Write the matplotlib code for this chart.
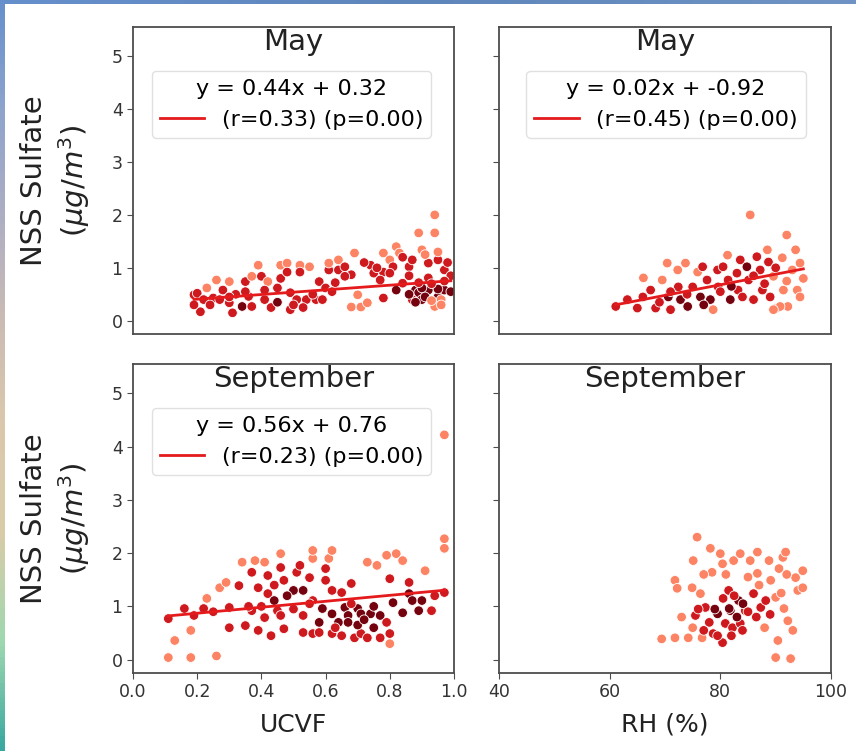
import matplotlib
matplotlib.use("Agg")
import matplotlib.pyplot as plt
import numpy as np
from matplotlib.colors import LinearSegmentedColormap

# ---------------- data ----------------
# shade codes: 1 = light, 2 = medium red, 3 = dark red (hue of each point)
may_ucvf_x = [0.19,0.21,0.23,0.26,0.25,0.28,0.30,0.30,0.31,0.34,
              0.35,0.37,0.37,0.39,0.40,0.41,0.42,0.45,0.46,0.46,
              0.48,0.48,0.49,0.49,0.52,0.52,0.51,0.55,0.54,0.57,
              0.59,0.61,0.61,0.64,0.64,0.66,0.69,0.68,0.70,0.68,
              0.71,0.73,0.74,0.75,0.78,0.78,0.78,0.80,0.81,0.82,
              0.83,0.82,0.86,0.87,0.88,0.89,0.90,0.89,0.90,0.92,
              0.92,0.94,0.94,0.95,0.95,0.96,0.97,0.97,0.94,0.92,
              0.87,0.84,0.77,0.66,0.63,0.58,0.41,0.36,0.27,0.19,
              0.20,0.22,0.99,0.99,0.86,0.88,0.90,0.91,0.93,0.95,
              0.96,0.93,0.89,0.97,0.43,0.45,0.50,0.53,0.56,0.60,
              0.62,0.35,0.32,0.30,0.24,0.72,0.76,0.80,0.84,0.86,
              0.91,0.95,0.98]
may_ucvf_y = [0.49,0.17,0.62,0.77,0.43,0.58,0.74,0.34,0.15,0.27,
              0.74,0.84,0.27,1.05,0.84,0.40,0.74,0.62,0.80,1.05,
              1.09,0.92,0.53,0.21,1.05,0.92,0.40,1.02,0.40,0.40,
              0.40,0.96,1.09,1.15,0.96,1.02,1.28,0.87,0.49,0.26,
              0.26,0.34,1.05,0.90,1.28,0.92,0.43,1.15,1.02,1.40,
              1.28,0.58,1.02,1.15,0.58,0.53,0.40,1.66,1.34,1.09,
              0.81,1.66,2.00,1.15,0.45,0.40,0.58,0.96,0.27,0.58,
              0.40,0.71,0.77,0.84,0.72,0.74,0.58,0.46,0.40,0.30,
              0.52,0.40,0.55,0.85,0.50,0.35,0.62,0.45,0.38,0.60,
              0.30,0.70,0.72,0.75,0.25,0.35,0.30,0.25,0.50,0.62,
              0.55,0.55,0.50,0.45,0.30,1.10,1.00,0.90,1.20,0.85,
              1.25,1.30,1.10]
may_ucvf_hue = [2,2,1,1,2,2,1,2,2,3,
                2,1,2,1,2,2,1,2,2,1,
                1,2,2,2,1,2,2,1,2,2,
                2,2,1,1,2,2,1,2,1,1,
                1,1,2,2,1,2,2,1,2,1,
                1,3,2,2,3,3,3,1,1,2,
                2,1,1,2,3,1,3,2,1,3,
                2,2,2,2,2,2,2,2,2,2,
                2,2,3,2,3,3,3,3,1,3,
                1,2,2,2,2,3,2,2,2,2,
                2,2,2,2,2,2,2,2,2,2,
                1,1,2]

may_rh_x = [61.1,63.2,65.0,66.1,67.4,68.3,69.5,70.4,70.6,71.0,
            72.3,72.4,72.8,73.7,74.1,75.0,75.9,76.4,76.8,77.6,
            78.2,78.7,79.5,79.6,80.5,81.3,81.4,81.8,83.0,83.2,
            83.6,84.8,85.1,85.4,86.0,86.6,87.2,87.6,88.5,88.7,
            89.0,89.6,90.2,91.2,91.4,92.0,92.2,93.0,93.6,93.9,
            94.4,94.4,90.8,89.6,66.0,69.0,71.0,74.0,77.0,80.0,
            82.0,84.0,86.0,88.0,90.0,92.0,95.0]
may_rh_y = [0.27,0.40,0.24,0.81,0.58,0.24,0.77,1.09,0.45,0.21,
            0.96,0.64,0.40,1.09,0.27,0.64,0.92,0.45,1.02,0.77,
            0.40,0.21,0.96,0.64,1.02,1.24,0.77,0.40,0.90,0.58,
            1.15,1.02,0.77,2.00,0.40,1.21,0.96,0.58,1.34,1.11,
            0.45,0.84,0.24,1.19,0.58,1.62,0.27,0.96,1.34,0.58,
            1.09,0.45,0.27,0.21,0.45,0.35,0.55,0.50,0.30,0.55,
            0.65,0.45,0.85,0.70,1.00,0.75,0.80]
may_rh_hue = [2,2,2,1,2,2,1,1,3,2,
              1,2,3,1,3,2,1,3,2,2,
              3,1,2,2,2,1,2,3,2,2,
              2,3,2,1,2,2,2,2,1,2,
              2,1,1,1,1,1,1,1,1,1,
              1,1,1,1,2,2,2,2,3,2,
              3,2,2,2,2,1,1]

sep_ucvf_x = [0.11,0.11,0.13,0.16,0.18,0.18,0.19,0.22,0.23,0.26,
              0.27,0.29,0.30,0.30,0.33,0.34,0.35,0.37,0.37,0.38,
              0.39,0.39,0.41,0.41,0.42,0.42,0.43,0.44,0.45,0.46,
              0.46,0.46,0.47,0.47,0.50,0.51,0.52,0.53,0.53,0.53,
              0.55,0.56,0.56,0.56,0.56,0.58,0.59,0.60,0.60,0.61,
              0.62,0.62,0.62,0.62,0.64,0.65,0.65,0.66,0.67,0.67,
              0.68,0.69,0.70,0.71,0.71,0.73,0.73,0.74,0.75,0.76,
              0.77,0.77,0.79,0.79,0.80,0.80,0.80,0.82,0.81,0.84,
              0.84,0.86,0.86,0.87,0.89,0.90,0.91,0.93,0.94,0.97,
              0.97,0.97,0.97,0.50,0.55,0.58,0.63,0.70,0.72,0.75,
              0.68,0.44,0.48,0.40,0.36,0.25]
sep_ucvf_y = [0.04,0.77,0.36,0.96,0.55,0.04,0.83,0.96,1.15,0.07,
              1.35,1.45,0.60,0.98,1.39,1.83,0.64,0.92,1.64,1.86,
              1.35,0.55,0.79,1.83,1.58,1.24,0.45,1.11,0.92,1.99,
              1.73,0.83,0.58,1.49,1.30,1.64,1.77,0.83,0.51,1.30,
              1.54,1.90,2.05,1.11,0.49,0.51,0.96,1.49,1.71,1.90,
              2.05,1.30,0.86,0.49,0.70,0.45,1.26,0.98,0.83,0.70,
              1.43,0.41,0.96,0.86,0.49,0.41,1.83,0.86,0.60,1.77,
              0.83,0.41,0.70,1.96,0.49,0.30,1.52,1.99,1.07,1.86,
              0.88,1.45,1.24,1.11,0.92,1.11,1.67,0.92,1.20,2.27,
              2.09,4.22,1.26,0.95,1.05,0.70,0.60,0.65,0.75,1.00,
              1.05,1.40,1.20,1.00,1.00,0.90]
sep_ucvf_hue = [1,2,1,2,1,1,2,2,1,1,
                1,1,2,2,2,1,2,2,2,1,
                2,2,2,1,2,2,2,3,2,1,
                2,2,2,2,3,2,2,2,2,3,
                2,1,1,2,2,2,3,2,2,1,
                1,2,3,2,3,2,2,3,3,3,
                2,2,3,3,2,2,1,3,3,1,
                3,2,2,1,2,1,2,1,3,1,
                3,2,3,3,3,3,1,2,2,1,
                1,1,2,2,2,3,2,3,3,3,
                2,2,3,2,2,2]

sep_rh_x = [75.8,69.4,71.8,71.8,72.2,74.2,74.9,75.1,75.5,76.4,
            76.7,77.3,78.2,78.5,78.7,79.5,80.0,80.4,80.4,80.9,
            81.5,81.8,82.2,82.4,83.3,83.6,83.6,84.5,85.4,86.0,
            86.7,86.7,87.3,88.2,88.8,89.1,90.0,90.4,90.6,91.3,
            91.5,91.8,92.2,90.0,92.7,93.1,93.6,94.0,94.9,94.9,
            81.6,84.1,79.0,80.5,82.5,83.0,85.0,86.5,78.0,77.0,
            79.5,84.0,82.0,88.0,89.0,91.0,92.0,87.0,85.0,81.0,
            77.0,73.0,75.0,76.0]
sep_rh_y = [2.30,0.39,0.41,1.49,1.34,0.41,1.35,1.86,0.83,1.24,
            0.41,0.98,2.09,1.64,0.49,0.86,1.99,1.80,0.32,0.68,
            1.30,0.92,0.60,1.86,1.11,1.99,0.68,0.92,1.86,1.24,
            2.02,1.62,0.98,1.11,1.86,1.49,1.17,0.36,1.71,1.92,
            0.96,2.02,0.73,0.04,0.02,0.55,1.54,1.30,1.67,1.35,
            0.96,1.05,0.95,1.15,1.20,0.80,0.90,0.80,0.70,0.55,
            0.45,0.55,0.45,0.60,0.85,1.25,1.60,1.40,1.55,1.60,
            1.60,0.80,0.60,0.95]
sep_rh_hue = [1,1,1,1,1,1,1,1,2,1,
              1,2,1,1,2,3,1,1,2,2,
              2,3,2,1,3,1,2,2,1,2,
              1,1,2,2,1,1,1,1,1,1,
              1,1,1,1,1,1,1,1,1,1,
              3,3,3,2,2,3,2,2,2,2,
              2,2,2,1,2,1,1,1,1,1,
              1,1,1,2]

# regression fits (slope, intercept, r, p) as printed in the legends
fit_may_ucvf = (0.44, 0.32, 0.33, 0.00)
fit_may_rh = (0.02, -0.92, 0.45, 0.00)
fit_sep_ucvf = (0.56, 0.76, 0.23, 0.00)

titles = ["May", "May", "September", "September"]
ylabel = "NSS Sulfate\n($\\mu g/m^3$)"
xlabels = ["UCVF", "RH (%)"]
ucvf_ticks = [0.0, 0.2, 0.4, 0.6, 0.8, 1.0]
rh_ticks = [40, 60, 80, 100]
y_ticks = [0, 1, 2, 3, 4, 5]

# ---------------- figure ----------------
W, H = 856, 751
fig = plt.figure(figsize=(W / 100, H / 100), dpi=100)
fig.patch.set_facecolor("white")

# slide border decoration (blue strip at top, gradient strip on the left)
grad_cmap = LinearSegmentedColormap.from_list(
    "border", ["#6690cc", "#8ea4cc", "#aeaec4", "#cbbcb4", "#dcc8ac",
               "#d8cca8", "#9fd8b0", "#3aa8a0"])
lax = fig.add_axes([0, 0, 5 / W, 1])
lax.imshow(np.linspace(0, 1, 200)[:, None], aspect="auto", cmap=grad_cmap)
lax.axis("off")
tax = fig.add_axes([0, 1 - 4 / H, 1, 4 / H])
tax.imshow(np.linspace(0, 1, 200)[None, :], aspect="auto",
           cmap=LinearSegmentedColormap.from_list("top", ["#6690cc", "#5f86bb", "#6f93c4"]))
tax.axis("off")

rects = [
    [133 / W, 1 - 334 / H, 321 / W, 307 / H],
    [499 / W, 1 - 334 / H, 332 / W, 307 / H],
    [133 / W, 1 - 673 / H, 321 / W, 309 / H],
    [499 / W, 1 - 673 / H, 332 / W, 309 / H],
]
axes = [fig.add_axes(r) for r in rects]

shade_level = {1: 0.42, 2: 0.74, 3: 0.97}
cmap = plt.cm.Reds

panels = [
    (may_ucvf_x, may_ucvf_y, may_ucvf_hue, fit_may_ucvf),
    (may_rh_x, may_rh_y, may_rh_hue, fit_may_rh),
    (sep_ucvf_x, sep_ucvf_y, sep_ucvf_hue, fit_sep_ucvf),
    (sep_rh_x, sep_rh_y, sep_rh_hue, None),
]

legend_x = [0.494, 0.503, 0.494, 0.5]

for i, (ax, (xs, ys, hs, fit)) in enumerate(zip(axes, panels)):
    xs = np.asarray(xs)
    ys = np.asarray(ys)
    cols = [cmap(shade_level[h]) for h in hs]
    ax.scatter(xs, ys, c=cols, s=48, edgecolors="white", linewidths=0.6, zorder=2)
    if fit is not None:
        slope, inter, r, p = fit
        xl = np.array([xs.min(), xs.max()])
        ax.plot(xl, slope * xl + inter, color="#e41a1c", lw=2.0, zorder=3,
                label=f"(r={r:.2f}) (p={p:.2f})")
        leg = ax.legend(title=f"y = {slope:.2f}x + {inter:.2f}",
                        loc="upper center", bbox_to_anchor=(legend_x[i], 0.893),
                        fontsize=16, title_fontsize=16, frameon=True,
                        borderpad=0.35, handlelength=2.0, handletextpad=0.8)
        leg.get_frame().set_edgecolor("0.85")
    ax.text(0.5, 0.925, titles[i], transform=ax.transAxes, ha="center",
            va="baseline", fontsize=21, color="#222222")
    ax.set_ylim(-0.25, 5.55)
    ax.set_yticks(y_ticks)
    for sp in ax.spines.values():
        sp.set_color("0.3")
        sp.set_linewidth(1.3)
    ax.tick_params(labelsize=12.5, colors="0.3", labelcolor="0.2", length=4)
    if i % 2 == 0:
        ax.set_xlim(0.0, 1.0)
        ax.set_ylabel(ylabel, fontsize=21, color="#222222", labelpad=14,
                      linespacing=1.3)
    else:
        ax.set_xlim(40, 100)
        ax.set_yticklabels([])
    if i < 2:
        ax.set_xticks([])
    else:
        ax.set_xticks(ucvf_ticks if i == 2 else rh_ticks)
        ax.set_xlabel(xlabels[i - 2], fontsize=18, color="#222222", labelpad=8)

fig.savefig("out.png", dpi=100)
